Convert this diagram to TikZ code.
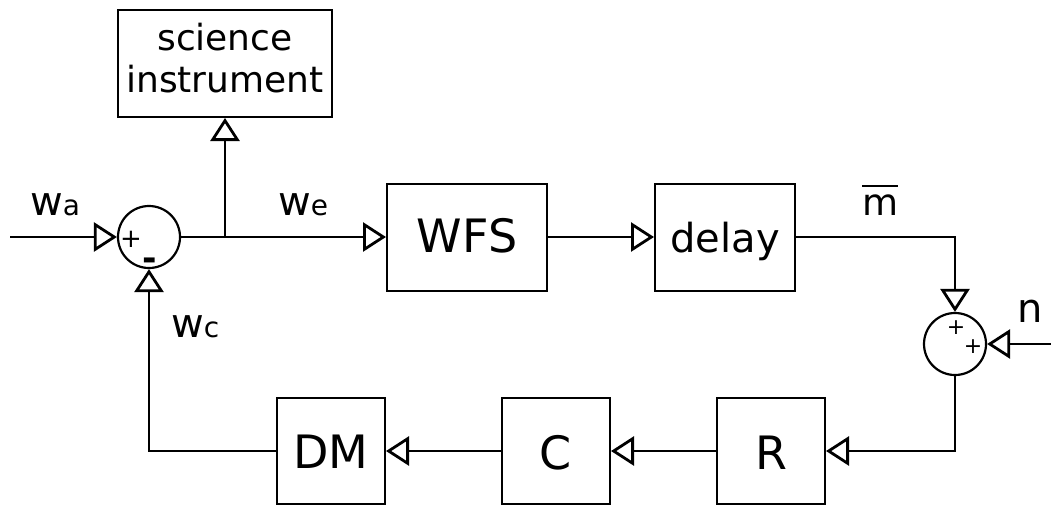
\documentclass[tikz,border=0pt]{standalone}
\usepackage{fontspec}
\setmainfont{DejaVu Sans}
\usetikzlibrary{arrows.meta}
\newcommand\fsz[1]{\fontsize{#1}{#1}\selectfont}
\newcommand\mbarlabel[1]{\vbox{\hrule height 2pt\kern 7.5pt\hbox{#1}}}
\begin{document}
\begin{tikzpicture}[x=1pt,y=-1pt,
  blk/.style={draw, line width=2pt, inner sep=0pt, text depth=0pt},
  sumc/.style={draw, circle, line width=2.2pt, minimum size=62pt, inner sep=0pt},
  lbl/.style={inner sep=0pt, anchor=base west},
  sgn/.style={inner sep=0pt, text height=0pt, text depth=0pt},
  conn/.style={line width=2.8pt},
  arr/.style={conn, -{Triangle[length=23pt, width=29pt, fill=white]}}
]
\useasboundingbox (0,0) rectangle (1051,504);
% blocks
\node[blk, minimum width=214pt, minimum height=107pt, align=center, font=\fontsize{36}{42}\selectfont, text height=69pt, text depth=12pt] (sci) at (225,63.5) {science\\instrument};
\node[blk, minimum width=160pt, minimum height=107pt, font=\fsz{46}, text height=30pt] (wfs) at (467,237) {WFS};
\node[blk, minimum width=140pt, minimum height=107pt, font=\fsz{40}, text height=30pt] (delay) at (725,237) {delay};
\node[blk, minimum width=108pt, minimum height=106pt, font=\fsz{46}, text height=34pt] (dm) at (331,451) {DM};
\node[blk, minimum width=108pt, minimum height=106pt, font=\fsz{46}, text height=36pt] (c) at (556,451) {C};
\node[blk, minimum width=108pt, minimum height=106pt, font=\fsz{46}, text height=36pt] (r) at (771,451) {R};
% summing junctions
\node[sumc] (s1) at (149,237) {};
\node[sumc] (s2) at (955,344) {};
\node[sgn, font=\fsz{26}] (s1p) at (131,247) {+};
\node[sgn, font=\bfseries\fsz{35}] (s1m) at (150,270) {-};
\node[sgn, font=\fsz{22}] (s2p1) at (956,334) {+};
\node[sgn, font=\fsz{22}] (s2p2) at (973,353) {+};
% free ends
\coordinate (in1) at (10,237);
\coordinate (in2) at (1051,344);
\coordinate (br) at (225,237);
% connectors
\draw[arr] (in1) -- (s1.west);
\draw[arr] (s1.east) -- (wfs.west);
\draw[arr] (br) -- (br |- sci.south);
\draw[arr] (wfs.east) -- (delay.west);
\draw[arr] (delay.east) -| (s2.north);
\draw[arr] (in2) -- (s2.east);
\draw[arr] (s2.south) |- (r.east);
\draw[arr] (r.west) -- (c.east);
\draw[arr] (c.west) -- (dm.east);
\draw[arr] (dm.west) -| (s1.south);
% labels
\node[lbl] (wa) at (30,215) {\fsz{40}w\fsz{28}a};
\node[lbl] (we) at (278,215) {\fsz{40}w\fsz{28}e};
\node[lbl] (wc) at (171,337) {\fsz{40}w\fsz{28}c};
\node[lbl] (mbar) at (862,215) {\fsz{37}\mbarlabel{m}};
\node[lbl] (n) at (1017,322) {\fsz{40}n};
\end{tikzpicture}
\end{document}
